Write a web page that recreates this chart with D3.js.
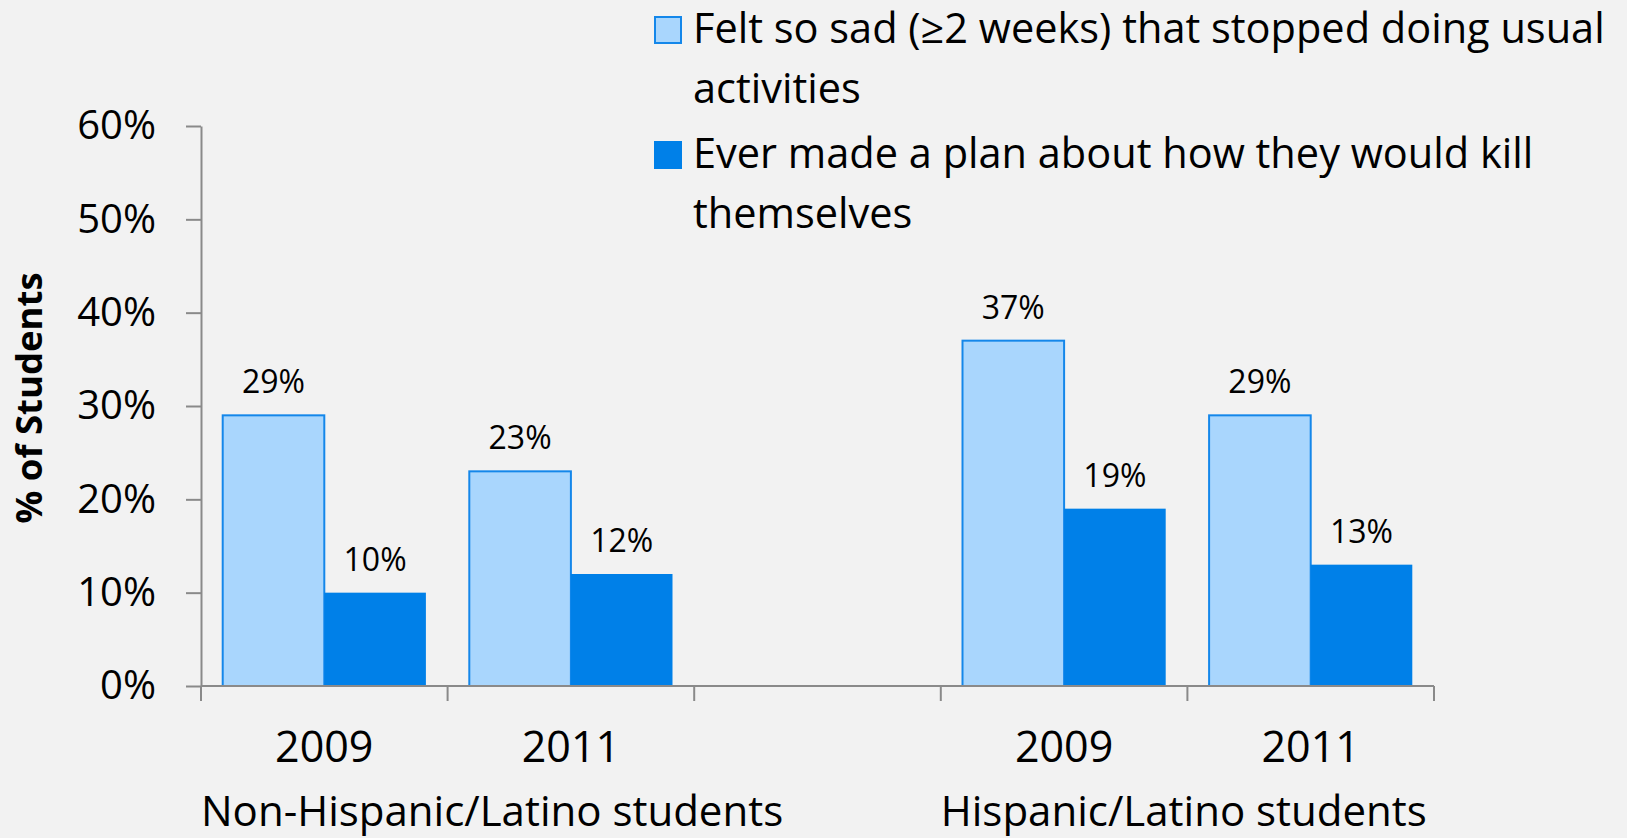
<!DOCTYPE html>
<html>
<head>
<meta charset="utf-8">
<script src="https://cdn.jsdelivr.net/npm/d3@7"></script>
<style>
  html, body { margin: 0; padding: 0; background: #f2f2f2; }
  svg { display: block; }
  text { font-family: "Open Sans", Lato, sans-serif; fill: #000; }
</style>
</head>
<body>
<svg id="chart" width="1627" height="838"></svg>
<script>
// Student survey: sadness and suicide planning by ethnicity and year
const groups = ["Non-Hispanic/Latino students", "Hispanic/Latino students"];
const years = ["2009", "2011"];
const seriesNames = [
  "Felt so sad (\u22652 weeks) that stopped doing usual activities",
  "Ever made a plan about how they would kill themselves"
];
const legendLines = [
  ["Felt so sad (\u22652 weeks) that stopped doing usual", "activities"],
  ["Ever made a plan about how they would kill", "themselves"]
];
// values per category, in order: Non-Hispanic 2009, 2011, Hispanic 2009, 2011
const sadValues = [0.29, 0.23, 0.37, 0.29];
const planValues = [0.10, 0.12, 0.19, 0.13];
const yTicks = [0, 0.1, 0.2, 0.3, 0.4, 0.5, 0.6];
const yTitle = "% of Students";

const colors = ["#a9d6fd", "#0080e8"];
const strokeColor = "#1487ea";
const axisColor = "#8a8a8a";

const svg = d3.select("#chart");
const W = 1627, H = 838;
svg.append("rect").attr("width", W).attr("height", H).attr("fill", "#f2f2f2");

const plot = { left: 201, right: 1434, top: 126, bottom: 686 };

// category slots with an empty slot separating the two groups
const categories = [];
groups.forEach((g, gi) => {
  if (gi > 0) categories.push({ key: "gap" + gi, gap: true });
  years.forEach(y => categories.push({ key: gi + "-" + y, group: gi, year: y }));
});
const dataCats = categories.filter(c => !c.gap);
dataCats.forEach((c, i) => { c.values = [sadValues[i], planValues[i]]; });

const x = d3.scaleBand()
  .domain(categories.map(c => c.key))
  .range([plot.left, plot.right])
  .paddingInner(0).paddingOuter(0);

const xInner = d3.scaleBand()
  .domain([0, 1])
  .range([0, x.bandwidth()])
  .paddingOuter(0.2136).paddingInner(0);

const y = d3.scaleLinear().domain([0, 0.6]).range([plot.bottom, plot.top]);

// y axis
const yAxis = d3.axisLeft(y)
  .tickValues(yTicks)
  .tickFormat(d3.format(".0%"))
  .tickSize(15)
  .tickPadding(30)
  .tickSizeOuter(0);
const gy = svg.append("g").attr("transform", `translate(${plot.left},0)`).call(yAxis);
gy.select(".domain").attr("stroke", axisColor).attr("stroke-width", 2);
gy.selectAll(".tick line").attr("stroke", axisColor).attr("stroke-width", 2);
gy.selectAll(".tick text")
  .style("font-size", "40px")
  .style("font-family", "'Open Sans', Lato, sans-serif")
  .attr("fill", "#000");

// bars
const catG = svg.selectAll("g.cat").data(dataCats).join("g")
  .attr("class", "cat")
  .attr("transform", d => `translate(${x(d.key)},0)`);

catG.selectAll("rect").data(d => d.values.map((v, i) => ({ v, i }))).join("rect")
  .attr("x", d => xInner(d.i))
  .attr("width", xInner.bandwidth())
  .attr("y", d => y(d.v))
  .attr("height", d => y(0) - y(d.v))
  .attr("fill", d => colors[d.i])
  .attr("stroke", d => d.i === 0 ? strokeColor : "none")
  .attr("stroke-width", 2);

catG.selectAll("text.val").data(d => d.values.map((v, i) => ({ v, i }))).join("text")
  .attr("class", "val")
  .attr("x", d => xInner(d.i) + xInner.bandwidth() / 2)
  .attr("y", d => y(d.v) - 22)
  .attr("text-anchor", "middle")
  .style("font-size", "32px")
  .text(d => d3.format(".0%")(d.v));

// x axis line and category ticks
const xg = svg.append("g");
xg.append("line")
  .attr("x1", plot.left).attr("x2", plot.right)
  .attr("y1", y(0)).attr("y2", y(0))
  .attr("stroke", axisColor).attr("stroke-width", 2);
const boundaries = categories.map(c => x(c.key)).concat([plot.right]);
xg.selectAll("line.tick").data(boundaries).join("line")
  .attr("class", "tick")
  .attr("x1", d => d).attr("x2", d => d)
  .attr("y1", y(0)).attr("y2", y(0) + 15)
  .attr("stroke", axisColor).attr("stroke-width", 2);

// year labels
xg.selectAll("text.year").data(dataCats).join("text")
  .attr("class", "year")
  .attr("x", d => x(d.key) + x.bandwidth() / 2)
  .attr("y", 762)
  .attr("text-anchor", "middle")
  .style("font-size", "43px")
  .text(d => d.year);

// group labels, aligned to the start of each group
xg.selectAll("text.group").data(groups).join("text")
  .attr("class", "group")
  .attr("x", (g, gi) => x(gi + "-" + years[0]))
  .attr("y", 826)
  .attr("text-anchor", "start")
  .style("font-size", "42px")
  .text(d => d);

// y axis title
svg.append("text")
  .attr("transform", `translate(42,398) rotate(-90)`)
  .attr("text-anchor", "middle")
  .style("font-size", "36.5px")
  .style("font-weight", "bold")
  .text(yTitle);

// legend
const legend = svg.append("g").attr("transform", "translate(654,0)");
const legendItems = legend.selectAll("g").data(seriesNames).join("g")
  .attr("transform", (d, i) => `translate(0,${i * 125})`);
legendItems.append("rect")
  .attr("x", 1).attr("y", 17)
  .attr("width", 26).attr("height", 26)
  .attr("fill", (d, i) => colors[i])
  .attr("stroke", (d, i) => i === 0 ? strokeColor : colors[i])
  .attr("stroke-width", 2);
legendItems.each(function(d, i) {
  const t = d3.select(this).append("text")
    .attr("x", 39).attr("y", 43)
    .style("font-size", "41.5px");
  legendLines[i].forEach((line, li) => {
    t.append("tspan").attr("x", 39).attr("dy", li === 0 ? 0 : 60).text(line);
  });
});
</script>
</body>
</html>
